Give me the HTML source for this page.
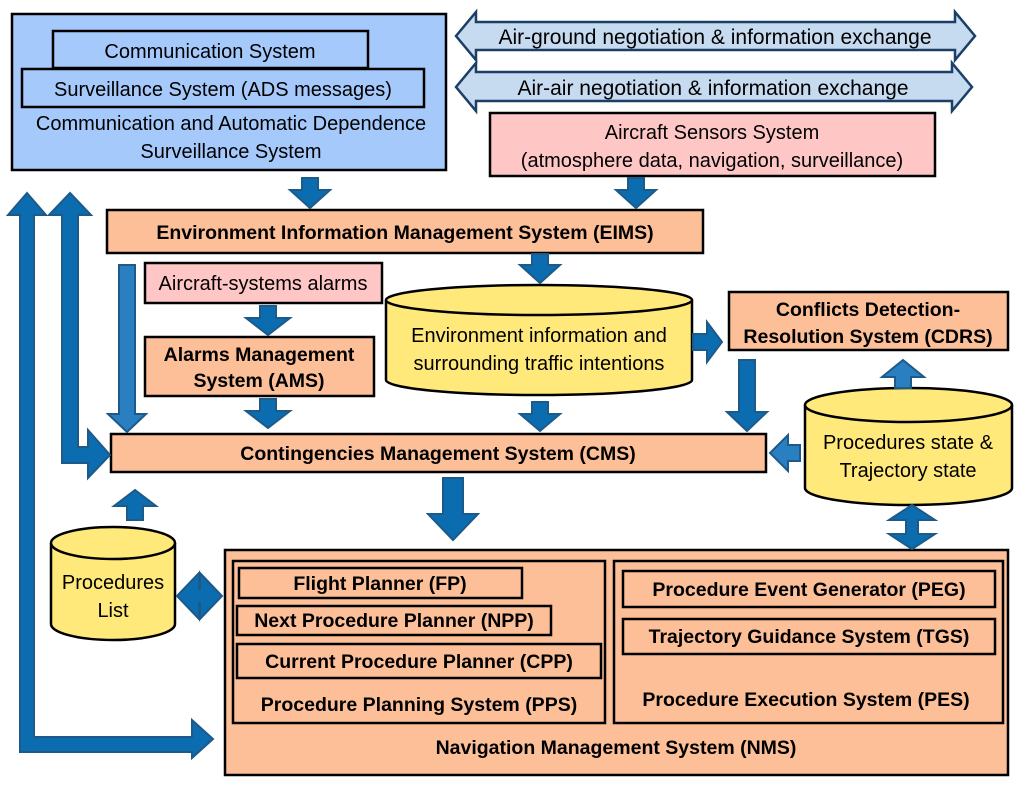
<!DOCTYPE html>
<html><head><meta charset="utf-8"><style>
body{margin:0;background:#fff}
svg text{font-family:"Liberation Sans",sans-serif;fill:#000}
</style></head><body>
<svg width="1024" height="794" viewBox="0 0 1024 794" xmlns="http://www.w3.org/2000/svg">
<g stroke="#000" stroke-width="2.5">
<rect x="12" y="14" width="434" height="156" fill="#a6c9fb"/>
<rect x="53" y="31" width="315" height="37" fill="#a6c9fb"/>
<rect x="22" y="69" width="402" height="38" fill="#a6c9fb"/>
</g>
<g font-size="20" text-anchor="middle">
<text x="210" y="58">Communication  System</text>
<text x="223" y="96">Surveillance  System  (ADS  messages)</text>
<text x="231" y="130">Communication and Automatic Dependence</text>
<text x="231" y="158">Surveillance System</text>
</g>
<g fill="#c6daf0" stroke="#1b3f66" stroke-width="2.5">
<polygon points="456,36 476,12 476,22 955,22 955,12 975,36 955,60 955,50 476,50 476,60"/>
<polygon points="456,87 476,63 476,72 952,72 952,63 972,87 952,111 952,101 476,101 476,111"/>
</g>
<g font-size="21" text-anchor="middle">
<text x="715" y="44">Air-ground negotiation &amp; information exchange</text>
<text x="713" y="95">Air-air negotiation &amp; information exchange</text>
</g>
<g stroke="#000" stroke-width="2.5">
<rect x="490" y="113" width="445" height="63" fill="#ffc6c6"/>
<rect x="107" y="210" width="596" height="43" fill="#fcbf98"/>
<rect x="145" y="263" width="237" height="40" fill="#ffc6c6"/>
<rect x="145" y="337" width="229" height="59" fill="#fcbf98"/>
<rect x="729" y="292" width="279" height="58" fill="#fcbf98"/>
<rect x="111" y="434" width="655" height="38" fill="#fcbf98"/>
<rect x="225" y="550" width="783" height="225" fill="#fcbf98"/>
<rect x="233" y="561" width="372" height="162" fill="#fcbf98"/>
<rect x="614" y="561" width="389" height="162" fill="#fcbf98"/>
<rect x="239" y="568" width="283" height="30" fill="#fcbf98"/>
<rect x="237" y="606" width="314" height="29" fill="#fcbf98"/>
<rect x="237" y="644" width="364" height="34" fill="#fcbf98"/>
<rect x="623" y="571" width="372" height="36" fill="#fcbf98"/>
<rect x="623" y="619" width="372" height="35" fill="#fcbf98"/>
</g>
<g stroke="#000" stroke-width="2.5" fill="#ffe97a">
<path d="M386,300 L386,380 A153,15 0 0 0 692,380 L692,300"/>
<ellipse cx="539" cy="300" rx="153" ry="15"/>
<path d="M805,405 L805,488 A103.5,17 0 0 0 1012,488 L1012,405"/>
<ellipse cx="908.5" cy="405" rx="103.5" ry="17"/>
<path d="M51,543 L51,624 A62,16 0 0 0 175,624 L175,543"/>
<ellipse cx="113" cy="543" rx="62" ry="16"/>
</g>
<g font-size="20" text-anchor="middle">
<text x="712" y="139">Aircraft Sensors System</text>
<text x="712" y="167">(atmosphere data, navigation, surveillance)</text>
<text x="263" y="290">Aircraft-systems alarms</text>
<text x="539" y="342">Environment  information  and</text>
<text x="539" y="370">surrounding traffic intentions</text>
<text x="908" y="449">Procedures state &amp;</text>
<text x="908" y="477">Trajectory  state</text>
<text x="113" y="589">Procedures</text>
<text x="113" y="617">List</text>
</g>
<g font-size="19.5" text-anchor="middle" font-weight="bold">
<text x="405" y="239">Environment Information  Management System (EIMS)</text>
<text x="259" y="361">Alarms Management</text>
<text x="259" y="387">System (AMS)</text>
<text x="868" y="316">Conflicts Detection-</text>
<text x="868" y="343">Resolution System (CDRS)</text>
<text x="438" y="460">Contingencies  Management System (CMS)</text>
<text x="380" y="590">Flight Planner (FP)</text>
<text x="394" y="627">Next Procedure Planner (NPP)</text>
<text x="419" y="668">Current Procedure Planner (CPP)</text>
<text x="419" y="711">Procedure Planning System (PPS)</text>
<text x="809" y="596">Procedure Event Generator (PEG)</text>
<text x="809" y="643">Trajectory  Guidance  System  (TGS)</text>
<text x="806" y="706">Procedure Execution System (PES)</text>
<text x="616" y="754">Navigation Management System (NMS)</text>
</g>
<g fill="#0c6cb0" stroke="#1d5a8a" stroke-width="2">
<polygon points="302,178 318,178 318,190 330,190 310,208 290,190 302,190"/>
<polygon points="628,178 644,178 644,190 656,190 636,208 616,190 628,190"/>
<polygon points="532,254 548,254 548,265 560,265 540,283 520,265 532,265"/>
<polygon points="260,306 276,306 276,318 290,318 268,335 246,318 260,318"/>
<polygon points="260,399 276,399 276,411 290,411 268,428 246,411 260,411"/>
<polygon points="532,402 548,402 548,414 560,414 540,431 520,414 532,414"/>
<polygon points="119,265 135,265 135,414 146,414 127,432 108,414 119,414" fill="#2a7fc0"/>
<polygon points="739,360 755,360 755,412 767,412 747,431 727,412 739,412"/>
<polygon points="443,478 463,478 463,514 478,514 453,540 428,514 443,514"/>
<polygon points="693,334 707,334 707,322 722,342 707,362 707,350 693,350"/>
<polygon points="800,445 788,445 788,435 770,453 788,471 788,461 800,461" fill="#2a7fc0"/>
<polygon points="127,520 143,520 143,506 156,506 135,490 114,506 127,506"/>
<polygon points="895,388 911,388 911,377 924,377 903,360 882,377 895,377" fill="#2a7fc0"/>
<polygon points="912,505 935,520 918,520 918,534 935,534 912,549 889,534 906,534 906,520 889,520"/>
<polygon points="177,596 199,573 199,589 200,589 200,573 222,596 200,619 200,603 199,603 199,619"/>
<polygon points="20,737 20,215 8,215 27,193 46,215 34,215 34,737 192,737 192,720 213,739 192,758 192,752 20,752"/>
<polygon points="62,455 62,215 49,215 70,193 91,215 78,215 78,447 88,447 88,430 110,455 88,478 88,463 62,463"/>
</g>
</svg>
</body></html>
